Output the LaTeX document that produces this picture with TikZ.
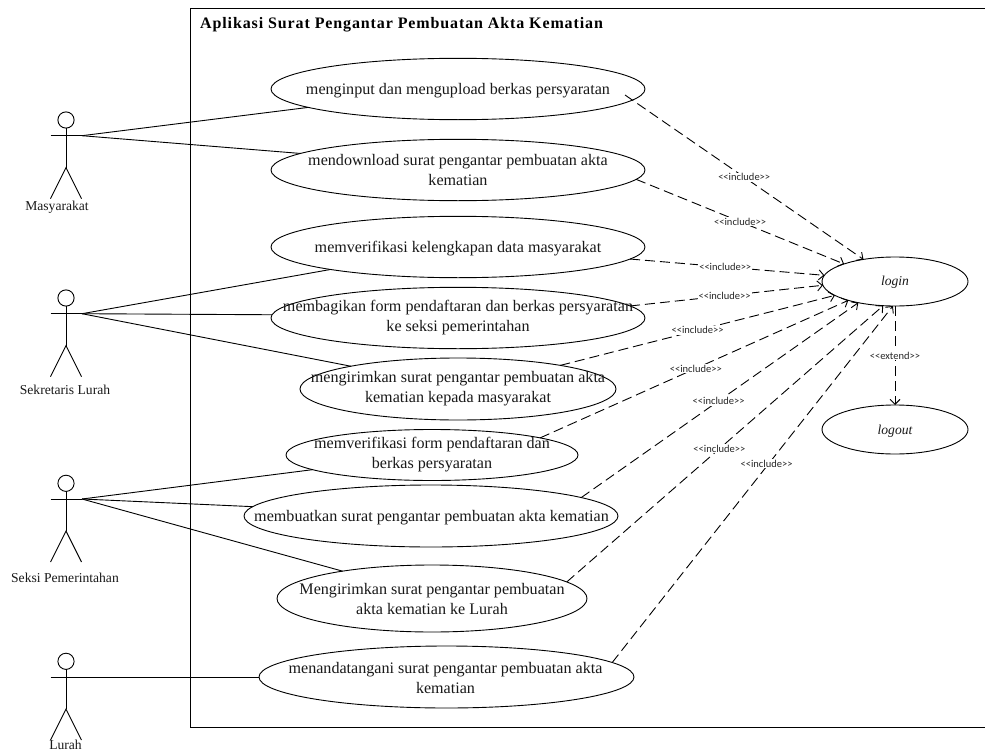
\documentclass[tikz,border=0pt]{standalone}
\usepackage{fontspec}
\setmainfont{Liberation Serif}
\newfontfamily\labfont{Carlito}
\newfontfamily\titlefont[LetterSpace=5.5,Ligatures=NoCommon]{Liberation Serif Bold}
\usetikzlibrary{shapes.geometric,arrows.meta}
\tikzset{
  x=1pt,y=-1pt,
  thinline/.style={line width=0.9pt,black},
  usecase/.style={draw,thinline,ellipse,inner sep=0pt,outer sep=0pt},
  uctext/.style={align=center,inner sep=0pt,font=\fontsize{16.1}{20}\selectfont,text=black!90},
  logintext/.style={inner sep=0pt,font=\fontsize{13.6}{16}\selectfont\itshape,text=black!90},
  acttext/.style={inner sep=0pt,font=\fontsize{13.6}{15}\selectfont,text=black!90},
  head/.style={draw,thinline,circle,minimum size=16.2pt,inner sep=0pt,outer sep=0pt},
  assoc/.style={thinline},
  dep/.style={thinline,dash pattern=on 10pt off 5pt,-{Straight Barb[length=5pt,width=10pt]}},
  inclabel/.style={fill=white,inner sep=1pt,font=\labfont\fontsize{10.5}{12}\selectfont,text=black!85},
}
\newcommand{\stickman}[3]{% name, x, arm y
  \node[head] (#1head) at (#2,#3-15.7) {};
  \coordinate (#1neck) at (#2,#3);
  \coordinate (#1hip) at (#2,#3+32);
  \coordinate (#1l) at (#2-15.5,#3);
  \coordinate (#1r) at (#2+16,#3);
  \coordinate (#1fl) at (#2-15.5,#3+63);
  \coordinate (#1fr) at (#2+15.5,#3+63);
  \draw[thinline] (#1head.south) -- (#1hip);
  \draw[thinline] (#1l) -- (#1r);
  \draw[thinline] (#1fl) -- (#1hip) -- (#1fr);
}
\begin{document}
\begin{tikzpicture}
\useasboundingbox (0,0) rectangle (985,752);
\fill[white] (0,0) rectangle (985,752);
% frame
\coordinate (ftr) at (985,8);
\coordinate (ftl) at (190,8);
\coordinate (fbl) at (190,727);
\coordinate (fbr) at (985,727);
\draw[thinline] (ftr) -- (ftl) -- (fbl) -- (fbr);
\node[anchor=base west,inner sep=0pt,font=\titlefont\fontsize{16}{18}\selectfont] (title) at (200,29) {Aplikasi Surat Pengantar Pembuatan Akta Kematian};
% actors
\stickman{aa}{66}{135.7}
\stickman{ab}{66}{313.7}
\stickman{ac}{66}{499}
\stickman{ad}{66}{677}
\node[acttext] (ta) at (57,207) {Masyarakat};
\node[acttext] (tb) at (65,390) {Sekretaris Lurah};
\node[acttext] (tc) at (65,578) {Seksi Pemerintahan};
\node[acttext] (td) at (65.5,745) {Lurah};
% use cases
\node[usecase,minimum width=374pt,minimum height=61.4pt] (e1) at (458,89) {};
\node[usecase,minimum width=374pt,minimum height=61.4pt] (e2) at (458,170) {};
\node[usecase,minimum width=374pt,minimum height=61.4pt] (e3) at (458,247) {};
\node[usecase,minimum width=374pt,minimum height=61.4pt] (e4) at (458,318) {};
\node[usecase,minimum width=316pt,minimum height=62pt] (e5) at (458,389) {};
\node[usecase,minimum width=292pt,minimum height=51pt] (e6) at (432,455) {};
\node[usecase,minimum width=374pt,minimum height=62pt] (e7) at (431,516) {};
\node[usecase,minimum width=310pt,minimum height=67pt] (e8) at (432,598.5) {};
\node[usecase,minimum width=375pt,minimum height=62pt] (e9) at (446.5,677) {};
\node[usecase,minimum width=146pt,minimum height=49pt] (login) at (895,281.5) {};
\node[usecase,minimum width=146pt,minimum height=49pt] (logout) at (895,429.5) {};
% use case texts
\node[uctext] (t1) at (458,90.5) {menginput dan mengupload berkas persyaratan};
\node[uctext] (t2) at (458,170) {mendownload surat pengantar pembuatan akta\\kematian};
\node[uctext] (t3) at (458,248.5) {memverifikasi kelengkapan data masyarakat};
\node[uctext] (t4) at (458,318) {membagikan form pendaftaran dan berkas persyaratan\\ke seksi pemerintahan};
\node[uctext] (t5) at (458,389) {mengirimkan surat pengantar pembuatan akta\\kematian kepada masyarakat};
\node[uctext] (t6) at (432,455) {memverifikasi form pendaftaran dan\\berkas persyaratan};
\node[uctext] (t7) at (431.5,517.5) {membuatkan surat pengantar pembuatan akta kematian};
\node[uctext] (t8) at (432,599) {Mengirimkan surat pengantar pembuatan\\akta kematian ke Lurah};
\node[uctext] (t9) at (445.5,677.5) {menandatangani surat pengantar pembuatan akta\\kematian};
\node[logintext] (tl) at (895,282.5) {login};
\node[logintext] (to) at (895,431) {logout};
% associations
\draw[assoc] (aar) -- (e1.187.2);
\draw[assoc] (aar) -- (e2.174.7);
\draw[assoc] (abr) -- (e3.190.4);
\draw[assoc] (abr) -- (e4.179);
\draw[assoc] (abr) -- (e5.168.5);
\draw[assoc] (acr) -- (e6.187.2);
\draw[assoc] (acr) -- (e7.177.1);
\draw[assoc] (acr) -- (e8.163.7);
\draw[assoc] (adr) -- (e9.west);
% dependencies
\coordinate (s1) at (625,95);
\draw[dep] (s1) -- node[inclabel,pos=.5] (l1) {<<include>>} (login.145);
\draw[dep] (e2.-3.2) -- node[inclabel,pos=.5] (l2) {<<include>>} (login.161);
\draw[dep] (e3.-4.3) -- node[inclabel,pos=.49] (l3) {<<include>>} (login.175.6);
\draw[dep] (e4.4.7) -- node[inclabel,pos=.49] (l4) {<<include>>} (login.183.6);
\draw[dep] (e5.13.6) -- node[inclabel,pos=.5] (l5) {<<include>>} (login.193.8);
\draw[dep] (e6.9.9) -- node[inclabel,pos=.505] (l6) {<<include>>} (login.202);
\draw[dep] (e7.7.4) -- node[inclabel,pos=.496] (l7) {<<include>>} (login.210);
\draw[dep] (e8.7.3) -- node[inclabel,pos=.4825] (l8) {<<include>>} (login.244);
\draw[dep] (e9.5) -- node[inclabel,pos=.55,yshift=3pt] (l9) {<<include>>} (login.265);
\draw[dep] (login.south) -- node[inclabel,pos=.5] (l10) {<<extend>>} (logout.north);
\end{tikzpicture}
\end{document}
